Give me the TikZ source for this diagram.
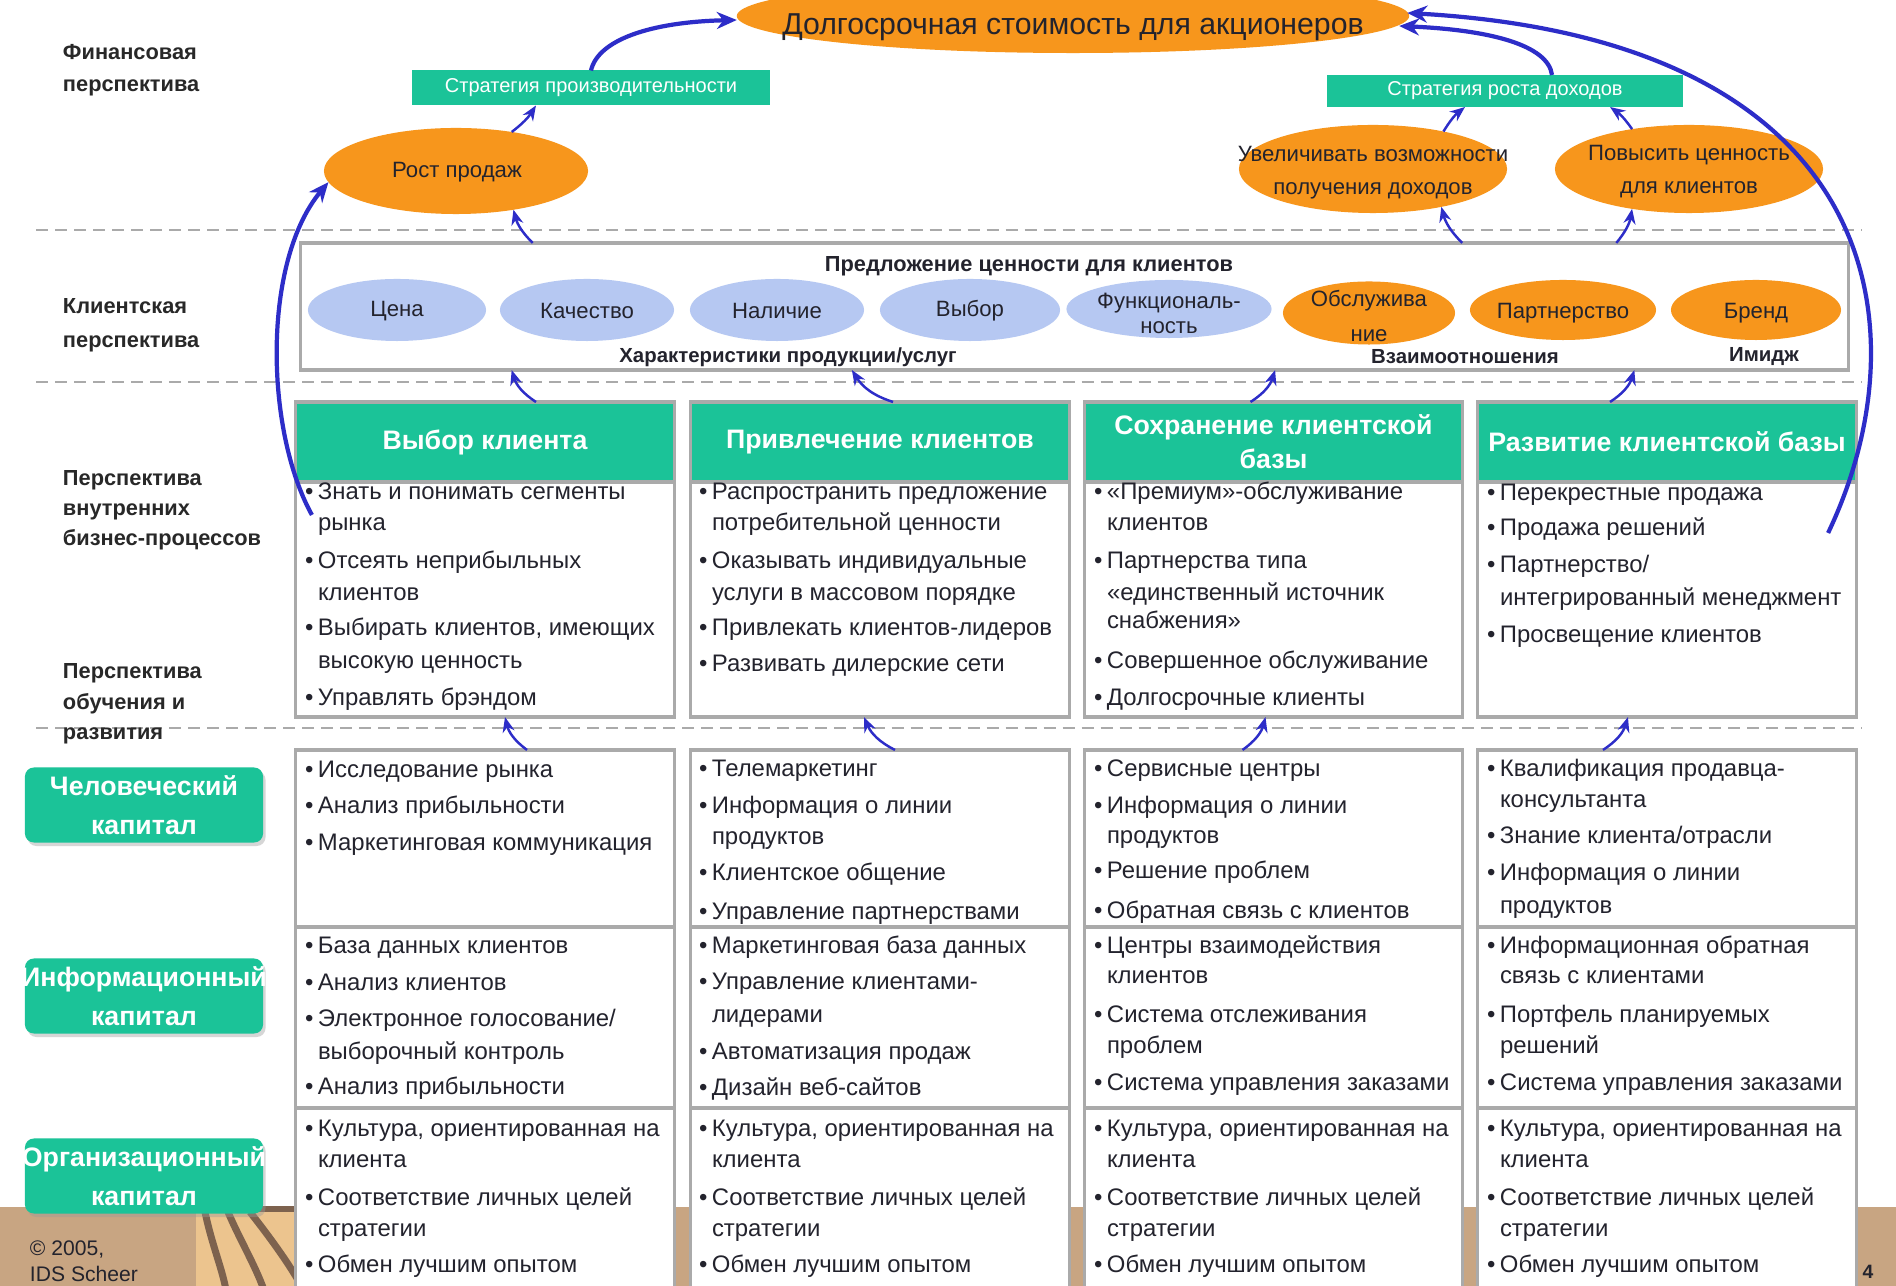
\documentclass[tikz,border=0pt]{standalone}
\usepackage{fontspec}
\setmainfont{Liberation Sans}
\usetikzlibrary{shapes.geometric,arrows.meta,shadows}
\definecolor{grn}{RGB}{27,195,152}
\definecolor{org}{RGB}{247,150,28}
\definecolor{lbl}{RGB}{182,200,242}
\definecolor{arr}{RGB}{45,45,200}
\definecolor{bord}{RGB}{170,170,170}
\definecolor{txtc}{RGB}{35,35,45}
\definecolor{sidec}{RGB}{40,40,40}
\definecolor{tanA}{RGB}{200,165,130}
\definecolor{tanB}{RGB}{236,196,142}
\definecolor{brn}{RGB}{125,98,78}
\newcommand\fsz[2]{\fontsize{#1}{#2}\selectfont}
\newcounter{tn}
\newcommand\Bl[3]{\stepcounter{tn}\node[body,anchor=base west] (tb\arabic{tn}) at (#1,#2) {\makebox[0.13cm][l]{\textbullet}#3};}
\newcommand\Cl[3]{\stepcounter{tn}\node[body,anchor=base west] (tc\arabic{tn}) at (#1+13,#2) {#3};}
\newcommand\Sl[3]{\stepcounter{tn}\node[side,anchor=base west] (ts\arabic{tn}) at (#1,#2) {#3};}
\newcommand\OrgList[1]{\Bl{#1}{1137}{Культура, ориентированная на}\Cl{#1}{1168}{клиента}\Bl{#1}{1206}{Соответствие личных целей}\Cl{#1}{1237}{стратегии}\Bl{#1}{1273}{Обмен лучшим опытом}}
\begin{document}
\begin{tikzpicture}[x=0.01cm,y=-0.01cm,
 every node/.style={inner sep=0pt,outer sep=0pt},
 body/.style={font=\fsz{6.8}{8},text=txtc},
 side/.style={font=\bfseries\fsz{6.2}{8},text=sidec},
 hdr/.style={fill=grn,draw=bord,line width=0.9pt,text=white,font=\bfseries\fsz{7.6}{9.7},align=center,minimum width=3.78cm,minimum height=0.8cm},
 cell/.style={fill=white,draw=bord,line width=0.9pt,minimum width=3.78cm},
 capbox/.style={fill=grn,rounded corners=0.09cm,text=white,font=\bfseries\fsz{7.6}{11.1},align=center,minimum width=2.38cm,minimum height=0.75cm,drop shadow={shadow xshift=0.025cm,shadow yshift=-0.035cm,fill=black!40,opacity=0.4}},
 strat/.style={fill=grn,text=white,font=\fsz{5.7}{7}},
 oell/.style={ellipse,fill=org},
 bell/.style={ellipse,fill=lbl},
 etext/.style={font=\fsz{6.3}{9.4},text=txtc,align=center},
 blab/.style={font=\bfseries\fsz{5.8}{7},text=txtc},
 dline/.style={draw=bord,line width=0.8pt,dash pattern=on 0.12cm off 0.07cm},
 bigarr/.style={draw=arr,line width=1.2pt,-{Stealth[length=0.2cm,width=0.17cm]}},
 smarr/.style={draw=arr,line width=0.7pt,-{Stealth[length=0.15cm,width=0.12cm]}}]
\useasboundingbox (0,0) rectangle (1896,1286);
\fill[white] (0,0) rectangle (1896,1286);
% bottom band
\fill[tanA] (0,1207) rectangle (1896,1286);
\fill[tanB] (196,1207) rectangle (300,1286);
\draw[brn,line width=0.06cm] (196,1209) -- (300,1209);
\draw[brn,line width=0.07cm] (205,1212) .. controls (212,1245) and (222,1268) .. (226,1290);
\draw[brn,line width=0.07cm] (228,1212) .. controls (240,1240) and (255,1265) .. (264,1290);
\draw[brn,line width=0.07cm] (250,1212) .. controls (268,1235) and (285,1258) .. (298,1280);
\node[font=\fsz{6}{8},text=txtc,anchor=base west] (cp1) at (30,1256) {© 2005,};
\node[font=\fsz{6}{8},text=txtc,anchor=base west] (cp2) at (30,1282) {IDS Scheer};
\node[font=\bfseries\fsz{5.5}{7},text=txtc] (pg) at (1868,1272) {4};
% dashed separators
\draw[dline] (36,230) -- (1862,230);
\draw[dline] (36,382) -- (1862,382);
\draw[dline] (36,728) -- (1862,728);
% side labels
\Sl{63}{60}{Финансовая}\Sl{63}{92}{перспектива}
\Sl{63}{314}{Клиентская}\Sl{63}{348}{перспектива}
\Sl{63}{486}{Перспектива}\Sl{63}{516}{внутренних}\Sl{63}{546}{бизнес-процессов}
\Sl{63}{679}{Перспектива}\Sl{63}{710}{обучения и}\Sl{63}{740}{развития}
% financial perspective
\node[oell,minimum width=6.72cm,minimum height=0.74cm] (lt) at (1073,16) {};
\node[font=\fsz{8.6}{10},text=txtc] (ltt) at (1073,27) {Долгосрочная стоимость для акционеров};
\node[strat,minimum width=3.58cm,minimum height=0.35cm] (sp) at (591,88) {Стратегия производительности};
\node[strat,minimum width=3.56cm,minimum height=0.32cm] (sr) at (1505,91) {Стратегия роста доходов};
\node[oell,minimum width=2.64cm,minimum height=0.86cm] (rost) at (456,171) {};
\node[etext] (rostt) at (457,172) {Рост продаж};
\node[oell,minimum width=2.68cm,minimum height=0.88cm] (uv) at (1373,169) {};
\node[etext] (uvt) at (1373,173) {Увеличивать возможности\\получения доходов};
\node[oell,minimum width=2.68cm,minimum height=0.88cm] (pc) at (1689,169) {};
\node[etext] (pct) at (1689,172) {Повысить ценность\\для клиентов};
% customer perspective
\node[draw=bord,line width=0.9pt,fill=white,minimum width=15.47cm,minimum height=1.27cm] (cb) at (1074.5,306.5) {};
\node[font=\bfseries\fsz{6.2}{8},text=txtc] (cbt) at (1029,266) {Предложение ценности для клиентов};
\node[bell,minimum width=1.78cm,minimum height=0.62cm] (e1) at (397,310) {};
\node[etext] (e1t) at (397,311) {Цена};
\node[bell,minimum width=1.74cm,minimum height=0.62cm] (e2) at (587,310) {};
\node[etext] (e2t) at (587,311) {Качество};
\node[bell,minimum width=1.74cm,minimum height=0.62cm] (e3) at (777,310) {};
\node[etext] (e3t) at (777,311) {Наличие};
\node[bell,minimum width=1.80cm,minimum height=0.62cm] (e4) at (970,310) {};
\node[etext] (e4t) at (970,311) {Выбор};
\node[bell,minimum width=2.05cm,minimum height=0.58cm] (e5) at (1169,309) {};
\node[etext,font=\fsz{6.3}{7.1}] (e5t) at (1169,313) {Функциональ-\\ность};
\node[oell,minimum width=1.72cm,minimum height=0.63cm] (e6) at (1369,313) {};
\node[etext,font=\fsz{6.3}{10.2}] (e6t) at (1369,316) {Обслужива\\ние};
\node[oell,minimum width=1.86cm,minimum height=0.60cm] (e7) at (1563,310) {};
\node[etext] (e7t) at (1563,313) {Партнерство};
\node[oell,minimum width=1.70cm,minimum height=0.60cm] (e8) at (1756,310) {};
\node[etext] (e8t) at (1756,313) {Бренд};
\node[blab] (l1) at (788,357) {Характеристики продукции/услуг};
\node[blab] (l2) at (1465,357) {Взаимоотношения};
\node[blab] (l3) at (1764,357) {Имидж};
% internal processes
\node[cell,minimum height=2.35cm] (b1) at (485,599.5) {};
\node[cell,minimum height=2.35cm] (b2) at (880,599.5) {};
\node[cell,minimum height=2.35cm] (b3) at (1273.5,599.5) {};
\node[cell,minimum height=2.35cm] (b4) at (1667,599.5) {};
\node[hdr] (h1) at (485,442) {Выбор клиента};
\node[hdr] (h2) at (880,442) {Привлечение клиентов};
\node[hdr] (h3) at (1273.5,442) {Сохранение клиентской\\базы};
\node[hdr] (h4) at (1667,442) {Развитие клиентской базы};
\Bl{305}{500}{Знать и понимать сегменты}\Cl{305}{531}{рынка}
\Bl{305}{569}{Отсеять неприбыльных}\Cl{305}{601}{клиентов}
\Bl{305}{636}{Выбирать клиентов, имеющих}\Cl{305}{669}{высокую ценность}
\Bl{305}{706}{Управлять брэндом}
\Bl{699}{500}{Распространить предложение}\Cl{699}{531}{потребительной ценности}
\Bl{699}{569}{Оказывать индивидуальные}\Cl{699}{601}{услуги в массовом порядке}
\Bl{699}{636}{Привлекать клиентов-лидеров}
\Bl{699}{672}{Развивать дилерские сети}
\Bl{1094}{500}{«Премиум»-обслуживание}\Cl{1094}{531}{клиентов}
\Bl{1094}{569}{Партнерства типа}\Cl{1094}{601}{«единственный источник}\Cl{1094}{629}{снабжения»}
\Bl{1094}{669}{Совершенное обслуживание}
\Bl{1094}{706}{Долгосрочные клиенты}
\Bl{1487}{501}{Перекрестные продажа}
\Bl{1487}{536}{Продажа решений}
\Bl{1487}{573}{Партнерство/}\Cl{1487}{606}{интегрированный менеджмент}
\Bl{1487}{643}{Просвещение клиентов}
% learning and growth cells
\node[cell,minimum height=1.77cm] (hc1) at (485,838.5) {};
\node[cell,minimum height=1.77cm] (hc2) at (880,838.5) {};
\node[cell,minimum height=1.77cm] (hc3) at (1273.5,838.5) {};
\node[cell,minimum height=1.77cm] (hc4) at (1667,838.5) {};
\node[cell,minimum height=1.81cm] (ic1) at (485,1017.5) {};
\node[cell,minimum height=1.81cm] (ic2) at (880,1017.5) {};
\node[cell,minimum height=1.81cm] (ic3) at (1273.5,1017.5) {};
\node[cell,minimum height=1.81cm] (ic4) at (1667,1017.5) {};
\node[cell,minimum height=1.92cm] (oc1) at (485,1204) {};
\node[cell,minimum height=1.92cm] (oc2) at (880,1204) {};
\node[cell,minimum height=1.92cm] (oc3) at (1273.5,1204) {};
\node[cell,minimum height=1.92cm] (oc4) at (1667,1204) {};
\node[capbox] (hum) at (144,805) {Человеческий\\капитал};
\node[capbox] (inf) at (144,996) {\makebox[2.3cm]{Информационный}\\капитал};
\node[capbox] (orgc) at (144,1176) {\makebox[2.3cm]{Организационный}\\капитал};
% human capital
\Bl{305}{778}{Исследование рынка}
\Bl{305}{814}{Анализ прибыльности}
\Bl{305}{851}{Маркетинговая коммуникация}
\Bl{699}{777}{Телемаркетинг}
\Bl{699}{814}{Информация о линии}\Cl{699}{845}{продуктов}
\Bl{699}{881}{Клиентское общение}
\Bl{699}{920}{Управление партнерствами}
\Bl{1094}{777}{Сервисные центры}
\Bl{1094}{814}{Информация о линии}\Cl{1094}{844}{продуктов}
\Bl{1094}{879}{Решение проблем}
\Bl{1094}{919}{Обратная связь с клиентов}
\Bl{1487}{777}{Квалификация продавца-}\Cl{1487}{808}{консультанта}
\Bl{1487}{844}{Знание клиента/отрасли}
\Bl{1487}{881}{Информация о линии}\Cl{1487}{914}{продуктов}
% information capital
\Bl{305}{954}{База данных клиентов}
\Bl{305}{991}{Анализ клиентов}
\Bl{305}{1027}{Электронное голосование/}\Cl{305}{1060}{выборочный контроль}
\Bl{305}{1095}{Анализ прибыльности}
\Bl{699}{954}{Маркетинговая база данных}
\Bl{699}{990}{Управление клиентами-}\Cl{699}{1023}{лидерами}
\Bl{699}{1060}{Автоматизация продаж}
\Bl{699}{1096}{Дизайн веб-сайтов}
\Bl{1094}{954}{Центры взаимодействия}\Cl{1094}{984}{клиентов}
\Bl{1094}{1023}{Система отслеживания}\Cl{1094}{1054}{проблем}
\Bl{1094}{1091}{Система управления заказами}
\Bl{1487}{954}{Информационная обратная}\Cl{1487}{984}{связь с клиентами}
\Bl{1487}{1023}{Портфель планируемых}\Cl{1487}{1054}{решений}
\Bl{1487}{1091}{Система управления заказами}
% organisational capital
\OrgList{305}\OrgList{699}\OrgList{1094}\OrgList{1487}
% connectors: financial
\draw[bigarr] (sp.north) .. controls (598,40) and (650,22) .. ([yshift=-0.04cm]lt.west);
\draw[smarr] (rost.35) to[bend right=10] ([xshift=-0.55cm]sp.south);
\draw[bigarr] ([xshift=0.47cm]sr.north) .. controls (1548,45) and (1490,30) .. ([xshift=-0.1cm,yshift=-0.1cm]lt.east);
\draw[smarr] (uv.28) to[bend left=10] ([xshift=-0.4cm]sr.south);
\draw[smarr] (pc.145) to[bend right=10] ([xshift=1.05cm]sr.south);
% customer -> financial
\draw[smarr] ([xshift=2.32cm]cb.north west) to[bend left=15] (rost.-34);
\draw[smarr] ([xshift=11.61cm]cb.north west) to[bend left=15] (uv.-29);
\draw[smarr] ([xshift=13.15cm]cb.north west) to[bend right=15] (pc.215);
% processes -> customer
\draw[smarr] ([xshift=2.40cm]h1.north west) to[bend left=20] ([xshift=2.11cm]cb.south west);
\draw[smarr] ([xshift=2.02cm]h2.north west) to[bend left=20] ([xshift=5.51cm]cb.south west);
\draw[smarr] ([xshift=1.66cm]h3.north west) to[bend right=20] ([xshift=9.74cm]cb.south west);
\draw[smarr] ([xshift=1.32cm]h4.north west) to[bend right=20] ([xshift=13.33cm]cb.south west);
% learning -> processes
\draw[smarr] ([xshift=2.31cm]hc1.north west) to[bend left=20] ([xshift=2.09cm]b1.south west);
\draw[smarr] ([xshift=2.04cm]hc2.north west) to[bend left=20] ([xshift=1.73cm]b2.south west);
\draw[smarr] ([xshift=1.58cm]hc3.north west) to[bend right=20] ([xshift=1.81cm]b3.south west);
\draw[smarr] ([xshift=1.25cm]hc4.north west) to[bend right=20] ([xshift=1.50cm]b4.south west);
% long arcs
\draw[bigarr] ([xshift=0.16cm,yshift=-0.33cm]b1.north west) .. controls (265,430) and (262,262) .. (rost.185);
\draw[bigarr] ([xshift=-0.28cm,yshift=-0.51cm]b4.north east) .. controls (1925,330) and (1885,40) .. ([xshift=-0.02cm,yshift=0.03cm]lt.east);
\end{tikzpicture}
\end{document}
